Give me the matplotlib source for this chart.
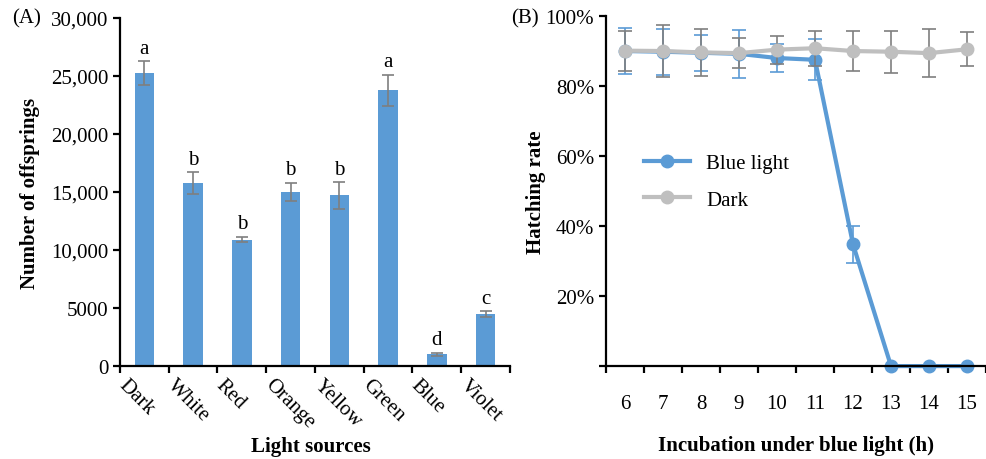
import numpy as np
import matplotlib
matplotlib.use("Agg")
import matplotlib.pyplot as plt
from matplotlib.ticker import FixedLocator, FuncFormatter
import matplotlib.transforms as mtransforms

plt.rcParams['font.family'] = ['Liberation Serif', 'DejaVu Serif']
plt.rcParams['font.size'] = 15

# panel A data
sources = ['Dark', 'White', 'Red', 'Orange', 'Yellow', 'Green', 'Blue', 'Violet']
offspring = [25250, 15750, 10900, 15000, 14700, 23750, 1030, 4480]
offspring_err = [1000, 950, 250, 780, 1150, 1350, 120, 230]
sig_letters = ['a', 'b', 'b', 'b', 'b', 'a', 'd', 'c']
a_yticks = [0, 5000, 10000, 15000, 20000, 25000, 30000]
a_yticklabels = ['0', '5000', '10,000', '15,000', '20,000', '25,000', '30,000']

# panel B data
hours = ['6', '7', '8', '9', '10', '11', '12', '13', '14', '15']
blue_rate = [0.900, 0.898, 0.895, 0.892, 0.880, 0.875, 0.348, 0.0, 0.0, 0.0]
blue_err = [0.065, 0.066, 0.052, 0.069, 0.040, 0.058, 0.053, 0.0, 0.0, 0.0]
dark_rate = [0.901, 0.900, 0.896, 0.894, 0.904, 0.908, 0.900, 0.898, 0.894, 0.905]
dark_err = [0.057, 0.075, 0.068, 0.043, 0.040, 0.050, 0.058, 0.060, 0.068, 0.048]
b_yticks = [0, 0.2, 0.4, 0.6, 0.8, 1.0]
b_yticklabels = ['', '20%', '40%', '60%', '80%', '100%']

BLUE = '#5B9BD5'
LGRAY = '#BFBFBF'
DGRAY = '#7F7F7F'

fig = plt.figure(figsize=(9.87, 4.6), dpi=100)
axA = fig.add_axes([0.1216, 0.202, 0.395, 0.757])
axB = fig.add_axes([0.614, 0.202, 0.385, 0.761])


def style_axes(ax):
    for s in ['top', 'right']:
        ax.spines[s].set_visible(False)
    for s in ['left', 'bottom']:
        ax.spines[s].set_linewidth(1.6)
    ax.tick_params(which='major', length=5, width=1.6, direction='out')


# ---- panel A
x = np.arange(len(sources))
axA.bar(x, offspring, width=0.4, color=BLUE, yerr=offspring_err,
        error_kw=dict(ecolor=DGRAY, elinewidth=1.2, capsize=4, capthick=1.2))
for i, (v, e, l) in enumerate(zip(offspring, offspring_err, sig_letters)):
    axA.text(i, v + e + 300, l, ha='center', va='bottom', fontsize=15)
axA.set_xlim(-0.5, len(sources) - 0.5)
axA.set_ylim(0, 30000)
axA.set_yticks(a_yticks)
axA.set_yticklabels(a_yticklabels)
axA.xaxis.set_major_locator(FixedLocator(np.arange(-0.5, len(sources), 1)))
axA.xaxis.set_major_formatter(FuncFormatter(lambda v, p: ''))
style_axes(axA)
trA = mtransforms.blended_transform_factory(axA.transData, axA.transAxes)
for i, name in enumerate(sources):
    axA.text(i - 0.33, -0.025, name, transform=trA, rotation=-45,
             rotation_mode='anchor', ha='left', va='top', fontsize=15)
axA.set_ylabel('Number of offsprings', fontweight='bold', labelpad=8)
fig.text(0.315, 0.028, 'Light sources', ha='center', va='center',
         fontweight='bold', fontsize=15)
fig.text(0.012, 0.958, '(A)', ha='left', va='center', fontsize=15)

# ---- panel B
xb = np.arange(len(hours))
axB.errorbar(xb[:7], blue_rate[:7], yerr=blue_err[:7], fmt='none',
             ecolor=BLUE, elinewidth=1.2, capsize=5, capthick=1.2, zorder=2)
axB.plot(xb, blue_rate, color=BLUE, lw=3, marker='o', ms=9,
         label='Blue light', zorder=2, clip_on=False)
axB.errorbar(xb, dark_rate, yerr=dark_err, fmt='none', ecolor=DGRAY,
             elinewidth=1.2, capsize=5, capthick=1.2, zorder=3)
axB.plot(xb, dark_rate, color=LGRAY, lw=3, marker='o', ms=9,
         label='Dark', zorder=3)
axB.set_xlim(-0.5, len(hours) - 0.5)
axB.set_ylim(0, 1.0)
axB.set_yticks(b_yticks)
axB.set_yticklabels(b_yticklabels)
axB.xaxis.set_major_locator(FixedLocator(np.arange(-0.5, len(hours), 1)))
axB.xaxis.set_major_formatter(FuncFormatter(lambda v, p: ''))
axB.set_xticks(xb, minor=True)
axB.set_xticklabels(hours, minor=True)
axB.tick_params(axis='x', which='minor', length=0, pad=20)
style_axes(axB)
axB.set_ylabel('Hatching rate', fontweight='bold', labelpad=0)
axB.set_xlabel('Incubation under blue light (h)', fontweight='bold', labelpad=16)
axB.legend(loc='upper left', bbox_to_anchor=(0.05, 0.66), frameon=False,
           fontsize=15, handlelength=2.2, labelspacing=0.8)
fig.text(0.518, 0.958, '(B)', ha='left', va='center', fontsize=15)

fig.savefig('out.png', dpi=100)
